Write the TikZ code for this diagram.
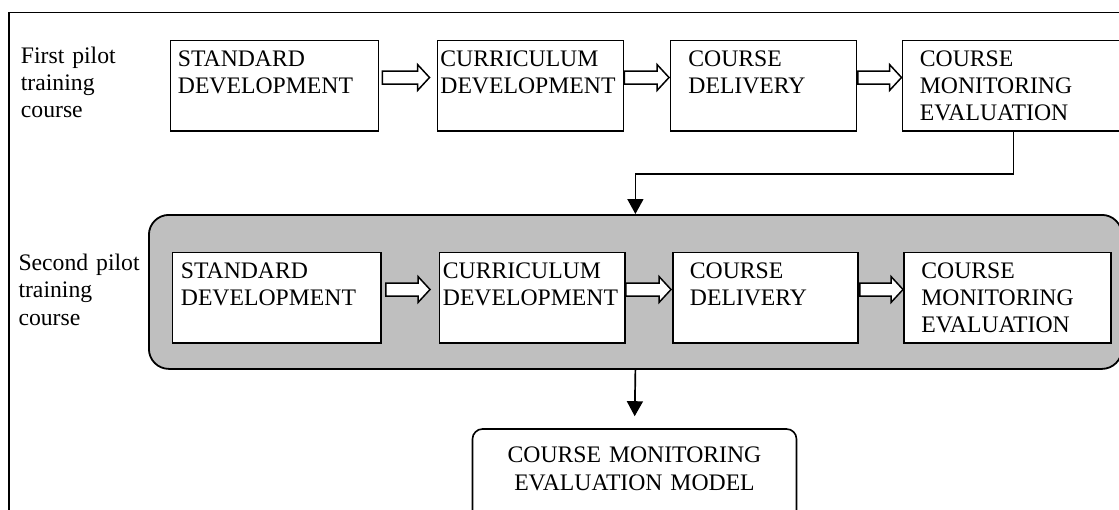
\documentclass[tikz,border=0pt]{standalone}
\usepackage{fontspec}
\setmainfont{Liberation Serif}
\usetikzlibrary{arrows.meta,calc}

\newcommand\boxfont{\fontsize{23.7pt}{27.2pt}\selectfont}
\newcommand\modelfont{\fontsize{23.7pt}{28.4pt}\selectfont}

% white block arrow between two boxes: #3 = gap after the left box, #4 = gap before the right box
\newcommand\hollowarrow[4]{%
  \draw[hollow] let \p1=(#1.east), \p2=(#2.west) in
    (\x1+#3pt, \y1+1.75pt) -- (\x2-#4pt-12pt, \y1+1.75pt) -- (\x2-#4pt-12pt, \y1-4.75pt)
    -- (\x2-#4pt, \y1+8.25pt)
    -- (\x2-#4pt-12pt, \y1+21.25pt) -- (\x2-#4pt-12pt, \y1+14.75pt) -- (\x1+#3pt, \y1+14.75pt) -- cycle;}

\tikzset{
  stepbox/.style={draw=black, line width=1.8pt, fill=white, inner ysep=0pt,
    align=left, font=\boxfont, anchor=base west},
  rowone/.style={text height=26pt, text depth=64.5pt},
  rowtwo/.style={text height=25.5pt, text depth=65pt},
  sidelabel/.style={inner sep=0pt, text width=140pt, align=left, font=\boxfont, anchor=base west},
  stage/.style={draw=black, line width=1.8pt, fill=black!25, rounded corners=20pt,
    inner sep=0pt, anchor=north west},
  modelbox/.style={draw=black, line width=1.6pt, fill=white, rounded corners=10pt,
    inner xsep=0pt, inner ysep=0pt, align=center, font=\modelfont, anchor=base},
  hollow/.style={draw=black, line width=1.5pt, fill=white, line join=miter},
  conn/.style={draw=black, line width=1.7pt, -{Triangle[width=16pt,length=15pt]}},
}

\begin{document}
\begin{tikzpicture}[x=1pt,y=-1pt]
\useasboundingbox (0,0) rectangle (1119,509);
\clip (0,0) rectangle (1119,509);
\fill[white] (0,0) rectangle (1119,509);

% outer frame (left and top edges)
\draw[line width=1.4pt] (9,530) -- (9,12.5) -- (1140,12.5);

% first pilot course
\node[sidelabel] (lfirst) at (20.7,63.3) {First pilot\\training\\course};
\node[stepbox, rowone, inner xsep=7.5pt, text width=193pt] (b1) at (169.5,66.5) {STANDARD\\DEVELOPMENT};
\node[stepbox, rowone, inner xsep=3pt, text width=180pt] (b2) at (436.5,66.5) {CURRICULUM\\DEVELOPMENT};
\node[stepbox, rowone, inner xsep=18pt, text width=150pt] (b3) at (669.5,66.5) {COURSE\\DELIVERY};
\node[stepbox, rowone, inner xsep=17.5pt, text width=187pt] (b4) at (901.5,66.5) {COURSE\\MONITORING\\EVALUATION};

\hollowarrow{b1}{b2}{3}{7}
\hollowarrow{b2}{b3}{0}{0.5}
\hollowarrow{b3}{b4}{0.5}{0}

% second pilot course inside the grey stage
\node[stage, minimum width=973pt, minimum height=154pt] (g) at (148,214) {};
\node[sidelabel] (lsecond) at (18.3,270.7) {Second pilot\\training\\course};
\node[stepbox, rowtwo, inner xsep=8.5pt, text width=191.5pt] (c1) at (171.5,278) {STANDARD\\DEVELOPMENT};
\node[stepbox, rowtwo, inner xsep=3.5pt, text width=178.5pt] (c2) at (438.5,278) {CURRICULUM\\DEVELOPMENT};
\node[stepbox, rowtwo, inner xsep=17pt, text width=151pt] (c3) at (672,278) {COURSE\\DELIVERY};
\node[stepbox, rowtwo, inner xsep=17.5pt, text width=172pt] (c4) at (903,278) {COURSE\\MONITORING\\EVALUATION};

\hollowarrow{c1}{c2}{4}{8.5}
\hollowarrow{c2}{c3}{0}{1}
\hollowarrow{c3}{c4}{1}{0}

% resulting model
\node[modelbox, text width=324pt, text height=33.3pt, text depth=66.7pt] (m) at (634.5,462.3) {COURSE MONITORING\\EVALUATION MODEL};

% connectors
\draw[conn] (b4.south) -- ++(0,42) -| (g.north);
\draw[conn, shorten >=12pt] (g.south) -- (m.north);
\end{tikzpicture}
\end{document}
